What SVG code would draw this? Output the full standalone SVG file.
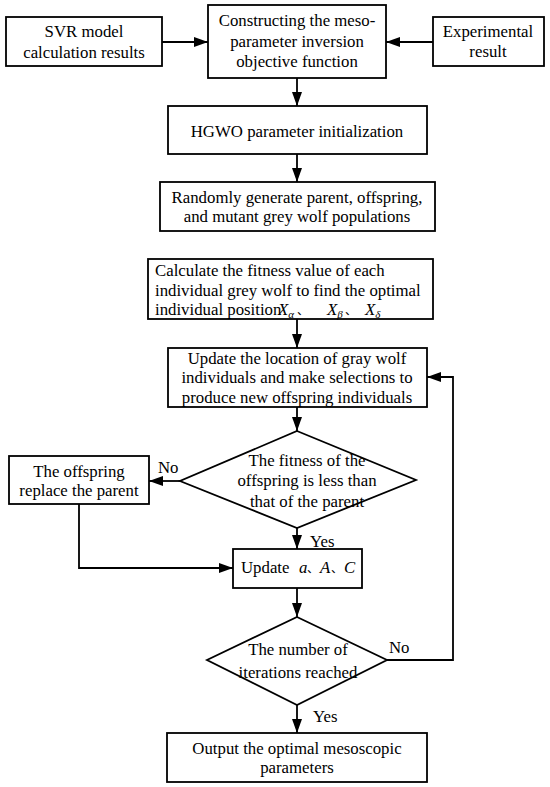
<svg xmlns="http://www.w3.org/2000/svg" width="550" height="787" viewBox="0 0 550 787">
<defs>
<marker id="ah" markerUnits="userSpaceOnUse" markerWidth="14" markerHeight="10" refX="14" refY="5" orient="auto">
<path d="M0,0 L14,5 L0,10 Z" fill="#000"/>
</marker>
</defs>
<rect width="550" height="787" fill="#fff"/>
<g id="connectors" fill="none" stroke="#000" stroke-width="1.8" marker-end="url(#ah)">
<path d="M162,42 H208"/>
<path d="M433,42 H386"/>
<path d="M297,78 V106"/>
<path d="M297,154 V182"/>
<path d="M297,319 V348"/>
<path d="M297,407 V431"/>
<path d="M180,481 H149"/>
<path d="M297,528 V549"/>
<path d="M79,504 V568 H233"/>
<path d="M297,588 V617"/>
<path d="M387,660 H453 V377 H427"/>
<path d="M297,705 V733"/>
</g>
<g id="svr">
<rect x="6" y="17" width="156" height="49" fill="#fff" stroke="#000" stroke-width="1.8"/>
<text font-family="Liberation Serif" font-size="16.8" text-anchor="middle" x="84" y="37">SVR model</text>
<text font-family="Liberation Serif" font-size="16.8" text-anchor="middle" x="84" y="58">calculation results</text>
</g>
<g id="construct">
<rect x="208" y="5" width="178" height="73" fill="#fff" stroke="#000" stroke-width="1.8"/>
<text font-family="Liberation Serif" font-size="16.8" text-anchor="middle" x="297" y="26">Constructing the meso-</text>
<text font-family="Liberation Serif" font-size="16.8" text-anchor="middle" x="297" y="47">parameter inversion</text>
<text font-family="Liberation Serif" font-size="16.8" text-anchor="middle" x="297" y="67">objective function</text>
</g>
<g id="experimental">
<rect x="433" y="17" width="111" height="49" fill="#fff" stroke="#000" stroke-width="1.8"/>
<text font-family="Liberation Serif" font-size="16.8" text-anchor="middle" x="488" y="37">Experimental</text>
<text font-family="Liberation Serif" font-size="16.8" text-anchor="middle" x="488" y="57">result</text>
</g>
<g id="hgwo">
<rect x="168" y="106" width="259" height="48" fill="#fff" stroke="#000" stroke-width="1.8"/>
<text font-family="Liberation Serif" font-size="16.8" text-anchor="middle" x="297" y="137">HGWO parameter initialization</text>
</g>
<g id="random">
<rect x="160" y="182" width="275" height="49" fill="#fff" stroke="#000" stroke-width="1.8"/>
<text font-family="Liberation Serif" font-size="16.8" text-anchor="middle" x="297" y="203">Randomly generate parent, offspring,</text>
<text font-family="Liberation Serif" font-size="16.8" text-anchor="middle" x="297" y="222">and mutant grey wolf populations</text>
</g>
<g id="calculate">
<rect x="148" y="259" width="285" height="60" fill="#fff" stroke="#000" stroke-width="1.8"/>
<text font-family="Liberation Serif" font-size="16.8" x="155" y="276">Calculate the fitness value of each</text>
<text font-family="Liberation Serif" font-size="16.8" x="155" y="296">individual grey wolf to find the optimal</text>
<text font-family="Liberation Serif" font-size="16.8" x="155" y="315">individual position</text>
<text font-family="Liberation Serif" font-size="16.8" font-style="italic" x="278" y="315">X<tspan font-size="11" dy="3">α</tspan></text>
<text font-family="Noto Sans CJK SC" font-size="12" x="297" y="315">、</text>
<text font-family="Liberation Serif" font-size="16.8" font-style="italic" x="327" y="315">X<tspan font-size="11" dy="3">β</tspan></text>
<text font-family="Noto Sans CJK SC" font-size="12" x="345" y="315">、</text>
<text font-family="Liberation Serif" font-size="16.8" font-style="italic" x="365" y="315">X<tspan font-size="11" dy="3">δ</tspan></text>
</g>
<g id="update">
<rect x="168" y="348" width="259" height="59" fill="#fff" stroke="#000" stroke-width="1.8"/>
<text font-family="Liberation Serif" font-size="16.8" text-anchor="middle" x="297" y="364">Update the location of gray wolf</text>
<text font-family="Liberation Serif" font-size="16.8" text-anchor="middle" x="297" y="383">individuals and make selections to</text>
<text font-family="Liberation Serif" font-size="16.8" text-anchor="middle" x="297" y="403">produce new offspring individuals</text>
</g>
<g id="fitness">
<polygon points="297,431 416,480 297,528 180,481" fill="#fff" stroke="#000" stroke-width="1.8"/>
<text font-family="Liberation Serif" font-size="16.8" text-anchor="middle" x="307" y="466">The fitness of the</text>
<text font-family="Liberation Serif" font-size="16.8" text-anchor="middle" x="307" y="486">offspring is less than</text>
<text font-family="Liberation Serif" font-size="16.8" text-anchor="middle" x="307" y="507">that of the parent</text>
</g>
<g id="replace">
<rect x="9" y="456" width="140" height="48" fill="#fff" stroke="#000" stroke-width="1.8"/>
<text font-family="Liberation Serif" font-size="16.8" text-anchor="middle" x="79" y="477">The offspring</text>
<text font-family="Liberation Serif" font-size="16.8" text-anchor="middle" x="79" y="496">replace the parent</text>
</g>
<g id="update2">
<rect x="233" y="549" width="129" height="39" fill="#fff" stroke="#000" stroke-width="1.8"/>
<text font-family="Liberation Serif" font-size="16.8" x="241" y="573">Update</text>
<text font-family="Liberation Serif" font-size="16.8" font-style="italic" x="299" y="573">a</text>
<text font-family="Noto Sans CJK SC" font-size="12" x="307" y="573">、</text>
<text font-family="Liberation Serif" font-size="16.8" font-style="italic" x="320" y="573">A</text>
<text font-family="Noto Sans CJK SC" font-size="12" x="331" y="573">、</text>
<text font-family="Liberation Serif" font-size="16.8" font-style="italic" x="344" y="573">C</text>
</g>
<g id="iterations">
<polygon points="297,617 387,660 297,705 207,660" fill="#fff" stroke="#000" stroke-width="1.8"/>
<text font-family="Liberation Serif" font-size="16.8" text-anchor="middle" x="298" y="655">The number of</text>
<text font-family="Liberation Serif" font-size="16.8" text-anchor="middle" x="298" y="678">iterations reached</text>
</g>
<g id="output">
<rect x="167" y="733" width="260" height="49" fill="#fff" stroke="#000" stroke-width="1.8"/>
<text font-family="Liberation Serif" font-size="16.8" text-anchor="middle" x="297" y="754">Output the optimal mesoscopic</text>
<text font-family="Liberation Serif" font-size="16.8" text-anchor="middle" x="297" y="773">parameters</text>
</g>
<g id="labels">
<text font-family="Liberation Serif" font-size="16.8" x="158" y="473">No</text>
<text font-family="Liberation Serif" font-size="16.8" x="310" y="547">Yes</text>
<text font-family="Liberation Serif" font-size="16.8" x="389" y="653">No</text>
<text font-family="Liberation Serif" font-size="16.8" x="313" y="722">Yes</text>
</g>
</svg>
